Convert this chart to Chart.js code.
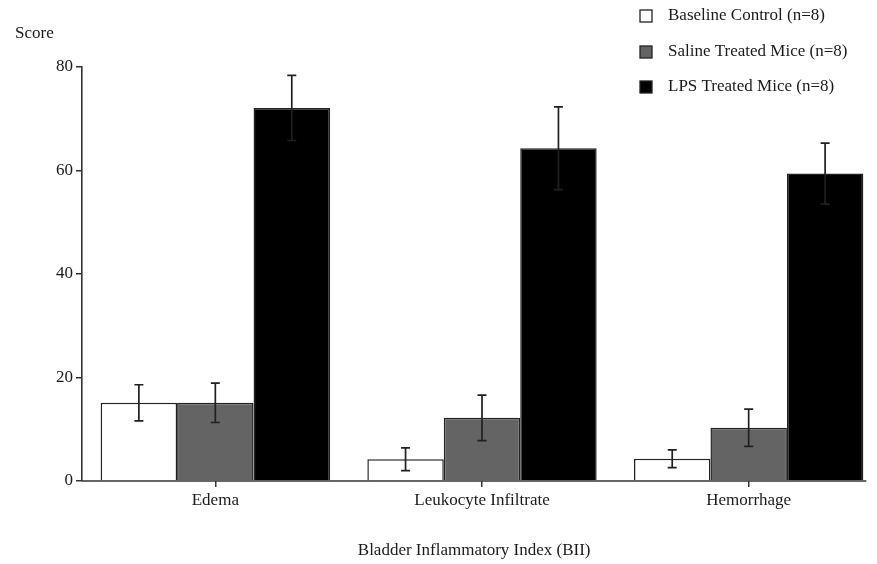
<!DOCTYPE html>
<html>
<head>
<meta charset="utf-8">
<script src="https://cdn.jsdelivr.net/npm/chart.js@4.4.1/dist/chart.umd.min.js"></script>
<style>
html,body{margin:0;padding:0;background:#fff;overflow:hidden;}
#wrap{width:877px;height:564px;overflow:hidden;position:relative;}
</style>
</head>
<body>
<div id="wrap"><canvas id="c" width="890" height="564"></canvas></div>
<script>
const categories = ['Edema', 'Leukocyte Infiltrate', 'Hemorrhage'];
const seriesNames = ['Baseline Control (n=8)', 'Saline Treated Mice (n=8)', 'LPS Treated Mice (n=8)'];
const baseline = [15.1, 4.2, 4.3];
const baselineErr = [3.5, 2.2, 1.7];
const saline = [15.1, 12.2, 10.3];
const salineErr = [3.8, 4.4, 3.6];
const lps = [72.1, 64.3, 59.4];
const lpsErr = [6.3, 8.0, 5.9];
const yTicks = [0, 20, 40, 60, 80];
const yTitle = 'Score';
const xTitle = 'Bladder Inflammatory Index (BII)';

const FONT = "'Liberation Serif', 'Times New Roman', serif";
const TEXT = '#1a1a1a';
const fillColors = ['#ffffff', '#646464', '#000000'];
const errs = [baselineErr, salineErr, lpsErr];

const errorBars = {
  id: 'errorBars',
  afterDatasetsDraw(chart) {
    const ctx = chart.ctx;
    const y = chart.scales.y;
    ctx.save();
    ctx.strokeStyle = '#202020';
    ctx.lineWidth = 1.7;
    chart.data.datasets.forEach((ds, di) => {
      const meta = chart.getDatasetMeta(di);
      meta.data.forEach((bar, i) => {
        const v = ds.data[i], e = errs[di][i];
        const yt = y.getPixelForValue(v + e);
        const yb = y.getPixelForValue(v - e);
        const x = bar.x;
        ctx.beginPath();
        ctx.moveTo(x, yt); ctx.lineTo(x, yb);
        ctx.moveTo(x - 4.5, yt); ctx.lineTo(x + 4.5, yt);
        ctx.moveTo(x - 4.5, yb); ctx.lineTo(x + 4.5, yb);
        ctx.stroke();
      });
    });
    ctx.restore();
  }
};

const extras = {
  id: 'extras',
  afterDraw(chart) {
    const ctx = chart.ctx;
    const area = chart.chartArea;
    ctx.save();
    const metaLast = chart.getDatasetMeta(chart.data.datasets.length - 1);
    const lastBar = metaLast.data[metaLast.data.length - 1];
    const xEnd = lastBar.x + lastBar.width / 2 + 3;
    ctx.strokeStyle = '#333';
    ctx.lineWidth = 1.6;
    ctx.beginPath();
    ctx.moveTo(area.left, area.bottom);
    ctx.lineTo(xEnd, area.bottom);
    ctx.stroke();
    ctx.fillStyle = TEXT;
    ctx.font = '17px ' + FONT;
    ctx.textAlign = 'center';
    ctx.textBaseline = 'middle';
    ctx.fillText(xTitle, (area.left + xEnd) / 2, 551);
    ctx.textAlign = 'left';
    ctx.fillText(yTitle, 15, 34);
    const rowY = [16, 52, 87];
    seriesNames.forEach((name, i) => {
      ctx.fillStyle = fillColors[i];
      ctx.fillRect(640, rowY[i] - 6, 12, 12);
      ctx.strokeStyle = '#222';
      ctx.lineWidth = 1.3;
      ctx.strokeRect(640, rowY[i] - 6, 12, 12);
      ctx.fillStyle = TEXT;
      ctx.fillText(name, 668, rowY[i]);
    });
    ctx.restore();
  }
};

new Chart(document.getElementById('c'), {
  type: 'bar',
  data: {
    labels: categories,
    datasets: [baseline, saline, lps].map((d, i) => ({
      label: seriesNames[i],
      data: d,
      backgroundColor: fillColors[i],
      borderColor: '#222',
      borderWidth: 1.5,
      barPercentage: 1.0,
      categoryPercentage: 0.86
    }))
  },
  options: {
    responsive: false,
    animation: false,
    layout: { padding: { left: 0, right: 8, top: 67, bottom: 0 } },
    plugins: { legend: { display: false }, tooltip: { enabled: false } },
    scales: {
      x: {
        offset: true,
        grid: { display: true, offset: false, drawOnChartArea: false, drawTicks: true, tickLength: 6, color: '#333', lineWidth: 1.5 },
        border: { display: false },
        ticks: { color: TEXT, font: { family: FONT, size: 17 }, padding: 3, maxRotation: 0 },
        title: { display: false },
        afterFit(s) { s.height = 83; }
      },
      y: {
        min: 0, max: 80,
        afterBuildTicks(s) { s.ticks = yTicks.map(v => ({ value: v })); },
        grid: { display: true, drawOnChartArea: false, drawTicks: true, tickLength: 6, color: '#333', lineWidth: 1.5 },
        border: { display: true, color: '#333', width: 1.6 },
        ticks: { color: TEXT, font: { family: FONT, size: 17 }, padding: 3 },
        afterFit(s) { s.width = 82; }
      }
    }
  },
  plugins: [errorBars, extras]
});
</script>
</body>
</html>
